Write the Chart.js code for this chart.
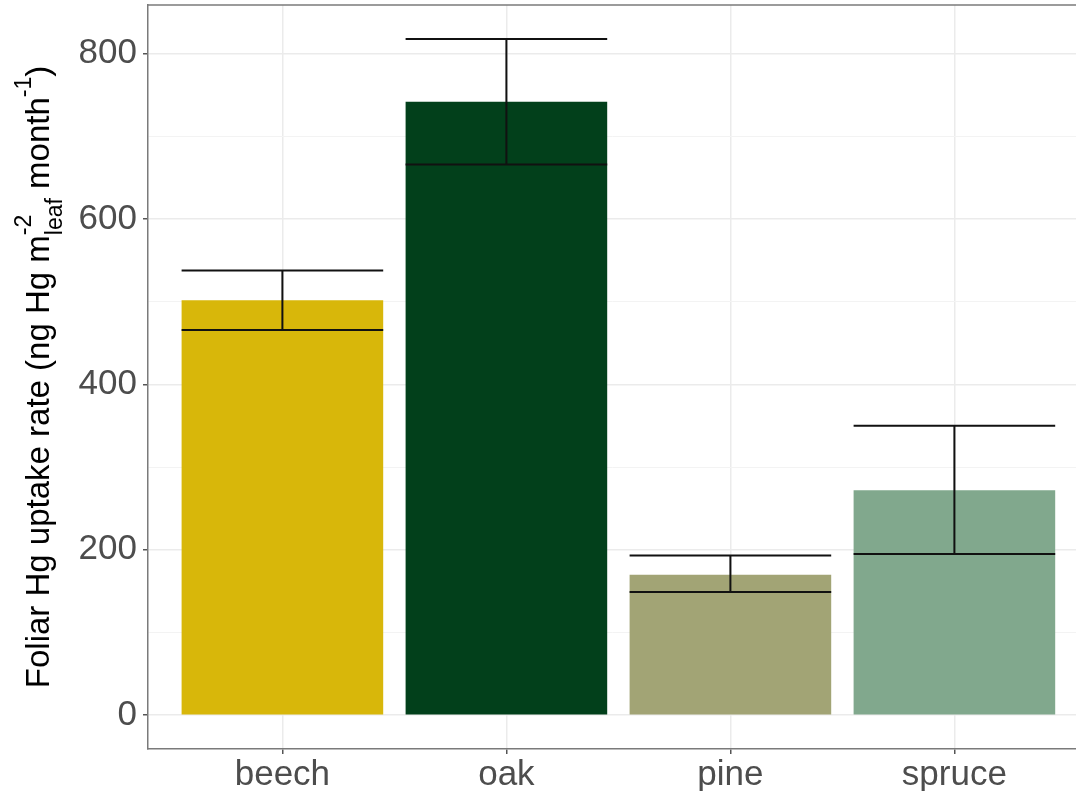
<!DOCTYPE html>
<html>
<head>
<meta charset="utf-8">
<script src="https://cdn.jsdelivr.net/npm/chart.js@4.4.1/dist/chart.umd.min.js"></script>
<style>
  html, body { margin: 0; padding: 0; background: #fff; }
  #wrap { width: 1076px; height: 791px; position: relative; }
</style>
</head>
<body>
<div id="wrap"><canvas id="uptakeChart"></canvas></div>
<script>
// data
const species = ['beech', 'oak', 'pine', 'spruce'];
const uptakeMean = [502, 742, 170, 272];
const errLower = [466, 666, 149, 195];
const errUpper = [538, 818, 193, 350];
const barColors = ['#D8B70A', '#02401B', '#A2A475', '#81A88D'];
const yTicks = [0, 200, 400, 600, 800];
const yMinorTicks = [100, 300, 500, 700];

const FONT = "'Liberation Sans', Arial, sans-serif";

// error bars, drawn over the bars
const errorBars = {
    id: 'errorBars',
    afterDatasetsDraw(chart) {
        const ctx = chart.ctx;
        const xs = chart.scales.x, ys = chart.scales.y;
        const meta = chart.getDatasetMeta(0);
        ctx.save();
        ctx.strokeStyle = '#111';
        ctx.lineWidth = 2;
        species.forEach((s, i) => {
            const cx = xs.getPixelForValue(i + 1);
            const half = meta.data[i].width / 2;
            const yHi = ys.getPixelForValue(errUpper[i]);
            const yLo = ys.getPixelForValue(errLower[i]);
            ctx.beginPath();
            ctx.moveTo(cx - half, yHi); ctx.lineTo(cx + half, yHi);
            ctx.moveTo(cx - half, yLo); ctx.lineTo(cx + half, yLo);
            ctx.moveTo(cx, yHi); ctx.lineTo(cx, yLo);
            ctx.stroke();
        });
        ctx.restore();
    }
};

// top edge of the panel + y axis title with sub/superscripts
const panelAndTitle = {
    id: 'panelAndTitle',
    afterDraw(chart) {
        const ctx = chart.ctx;
        const a = chart.chartArea;
        ctx.save();
        ctx.strokeStyle = '#7a7a7a';
        ctx.lineWidth = 1.5;
        ctx.beginPath();
        ctx.moveTo(a.left, a.top);
        ctx.lineTo(a.right, a.top);
        ctx.stroke();

        const big = '33px ' + FONT, small = '23px ' + FONT;
        const parts = [
            { t: 'Foliar Hg uptake rate (ng Hg m', f: big, dy: 0 },
            { t: 'leaf', f: small, dy: 13, stackSup: '-2' },
            { t: ' month', f: big, dy: 0 },
            { t: '-1', f: small, dy: -18 },
            { t: ')', f: big, dy: 0 }
        ];
        let total = 0;
        parts.forEach(p => { ctx.font = p.f; p.w = ctx.measureText(p.t).width; total += p.w; });
        ctx.translate(49, (a.top + a.bottom) / 2);
        ctx.rotate(-Math.PI / 2);
        ctx.fillStyle = '#000';
        ctx.textBaseline = 'alphabetic';
        let x = -total / 2;
        parts.forEach(p => {
            ctx.font = p.f;
            ctx.fillText(p.t, x, p.dy);
            if (p.stackSup) ctx.fillText(p.stackSup, x, -18);
            x += p.w;
        });
        ctx.restore();
    }
};

new Chart(document.getElementById('uptakeChart'), {
    type: 'bar',
    data: {
        datasets: [{
            data: species.map((s, i) => ({ x: i + 1, y: uptakeMean[i] })),
            backgroundColor: barColors,
            borderWidth: 0,
            barPercentage: 0.9,
            categoryPercentage: 1
        }]
    },
    options: {
        responsive: true,
        maintainAspectRatio: false,
        animation: false,
        layout: { padding: { top: 5, right: 0, left: 0, bottom: 0 } },
        plugins: { legend: { display: false }, tooltip: { enabled: false } },
        scales: {
            x: {
                type: 'linear',
                offset: false,
                min: 0.4,
                max: 0.4 + (1076 - 148) / 224,
                afterBuildTicks: scale => { scale.ticks = species.map((s, i) => ({ value: i + 1 })); },
                afterFit: scale => { scale.height = 42; scale.paddingLeft = 0; scale.paddingRight = 0; },
                ticks: {
                    autoSkip: false,
                    maxRotation: 0,
                    padding: 0,
                    color: '#4D4D4D',
                    font: { family: FONT, size: 35 },
                    callback: v => species[v - 1]
                },
                grid: {
                    offset: false,
                    color: '#EBEBEB',
                    lineWidth: 1.5,
                    tickLength: 5,
                    tickColor: '#555',
                    tickWidth: 1.5
                },
                border: { color: '#7a7a7a', width: 1.5 }
            },
            y: {
                min: -40.9,
                max: 859,
                afterBuildTicks: scale => {
                    scale.ticks = yTicks.concat(yMinorTicks).sort((p, q) => p - q).map(v => ({ value: v }));
                },
                afterFit: scale => { scale.width = 148; scale.paddingTop = 0; scale.paddingBottom = 0; },
                ticks: {
                    autoSkip: false,
                    padding: 6,
                    color: '#4D4D4D',
                    font: { family: FONT, size: 35 },
                    callback: v => yTicks.includes(v) ? String(v) : ''
                },
                grid: {
                    color: c => yTicks.includes(c.tick && c.tick.value) ? '#EBEBEB' : '#F3F3F3',
                    lineWidth: c => yTicks.includes(c.tick && c.tick.value) ? 1.5 : 1,
                    tickLength: 5,
                    tickColor: c => yTicks.includes(c.tick && c.tick.value) ? '#555' : 'rgba(0,0,0,0)',
                    tickWidth: 1.5
                },
                border: { color: '#7a7a7a', width: 1.5 }
            }
        }
    },
    plugins: [errorBars, panelAndTitle]
});
</script>
</body>
</html>
